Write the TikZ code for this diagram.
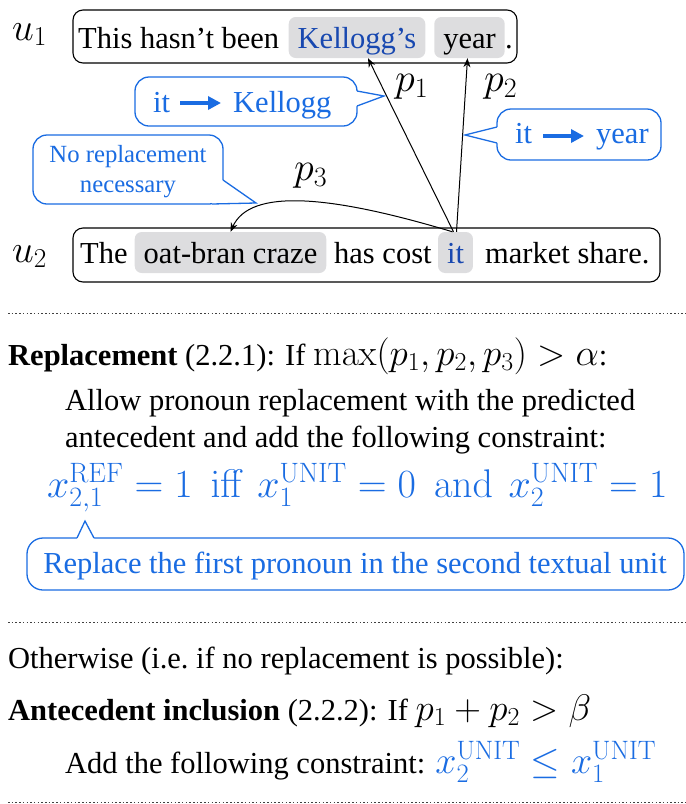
\RequirePackage{fix-cm}
\documentclass[tikz,border=0pt]{standalone}
\usepackage{amsmath}
\usepackage[no-math]{fontspec}
\setmainfont{Liberation Serif}
\usetikzlibrary{calc,arrows.meta}
\definecolor{bblue}{RGB}{26,108,226}
\definecolor{dblue}{RGB}{24,72,176}
\definecolor{hlgray}{RGB}{221,221,223}
\newcommand\fmain{\fontsize{30.5}{36}\selectfont}
\newcommand\fsmall{\fontsize{24.7}{30}\selectfont}
\newcommand\fmath{\fontsize{40}{44}\selectfont}
\newcommand\feq{\fontsize{40}{44}\selectfont}
\newcommand\mth[1]{{\fontsize{37}{40}\selectfont$#1$}}
\newcommand\pointer[4]{%
  \fill[white] ($#1+#4$) -- #1 -- #2 -- #3 -- ($#3+#4$) -- cycle;
  \draw[bblue, line width=1.3pt, line join=miter] #1 -- #2 -- #3;}
\begin{document}
\begin{tikzpicture}[x=1pt,y=-1pt,
  txt/.style={inner sep=0pt, anchor=base west, font=\fmain},
  hl/.style={fill=hlgray, rounded corners=7pt, inner xsep=9pt, inner ysep=1pt,
             text height=30pt, text depth=9pt, anchor=base, font=\fmain},
  ubox/.style={draw, line width=1.1pt, rounded corners=10pt, inner sep=0pt},
  bubble/.style={draw=bblue, line width=1.3pt, rounded corners=14pt, fill=white, inner sep=0pt},
  btxt/.style={inner sep=0pt, anchor=base west, text=bblue, font=\fmain},
  conn/.style={-{Stealth[length=9pt,width=7pt]}, line width=1pt},
  bigarrow/.style={line width=4pt, bblue, -{Triangle[length=13pt,width=13pt]}},
  sepline/.style={dash pattern=on 1.5pt off 2.2pt, line width=1pt, black!75}]
\useasboundingbox (0,0) rectangle (686,804);

% --- textual units
\node[ubox, minimum width=444pt, minimum height=53pt] (box1) at (295,36.5) {};
\node[txt] (t1a) at (78,48) {This hasn’t been};
\node[hl, text=dblue] (kel) at (357,48) {Kellogg’s};
\node[hl] (year) at (469.5,48) {year};
\node[txt] (dot) at (505,48) {.};
\node[txt, font=\fontsize{39}{44}\selectfont] (u1) at (12,40) {$u_1$};

\node[ubox, minimum width=587pt, minimum height=54pt] (box2) at (366.5,255) {};
\node[txt] (t2a) at (80,263) {The};
\node[hl] (oat) at (230.5,263) {oat-bran craze};
\node[txt] (t2b) at (334,263) {has cost};
\node[hl, text=dblue] (itw) at (455.5,263) {it};
\node[txt] (t2c) at (485,263) {market share.};
\node[txt, font=\fontsize{39}{44}\selectfont] (u2) at (12,262) {$u_2$};

% --- links
\draw[conn] ($(itw.north)+(-2,0)$) -- ($(kel.south)+(11,0)$);
\draw[conn] ($(itw.north)+(1,0)$) -- ($(year.south)+(-2,0)$);
\draw[conn] ($(itw.north)+(-3,0)$) .. controls (330,195) and (250,188) .. (oat.north);
\node[txt, font=\fmath] (p1) at (395,91) {$p_1$};
\node[txt, font=\fmath] (p2) at (484,91) {$p_2$};
\node[txt, font=\fmath] (p3) at (294,180) {$p_3$};

% --- bubbles
\node[bubble, minimum width=222pt, minimum height=49pt] (bK) at (246,101.5) {};
\pointer{(357,91)}{(384,96)}{(357,106)}{(-3,0)}
\node[btxt] (itK) at (153,112) {it};
\node[btxt] (kelB) at (233,112) {Kellogg};
\draw[bigarrow] ($(itK.base east)+(10,-9)$) -- ($(kelB.base west)+(-12,-9)$);

\node[bubble, minimum width=164pt, minimum height=51pt] (bY) at (579,134.5) {};
\pointer{(497,127)}{(465,135)}{(497,143)}{(3,0)}
\node[btxt] (itY) at (515,143) {it};
\node[btxt] (yearB) at (596,143) {year};
\draw[bigarrow] ($(itY.base east)+(11,-7)$) -- ($(yearB.base west)+(-12,-7)$);

\node[bubble, minimum width=190pt, minimum height=69pt] (bN) at (128,169.5) {};
\fill[white] (218,180) -- (223.7,180) -- (256,203) -- (212,204.7) -- (212,201) -- (218,196) -- cycle;
\draw[bblue, line width=1.3pt, line join=miter] (223,180) -- (256,203) -- (212,204);
\node[anchor=base, inner sep=0pt, text=bblue, font=\fsmall] (bN1) at (128,162) {No replacement};
\node[anchor=base, inner sep=0pt, text=bblue, font=\fsmall] (bN2) at (128,192) {necessary};

% --- separators
\draw[sepline] (8,313) -- (686,313);
\draw[sepline] (8,622) -- (686,622);
\draw[sepline] (8,802) -- (686,802);

% --- replacement rule
\node[txt] (rep) at (8,365) {\textbf{Replacement} (2.2.1): If \mth{\max(p_1,p_2,p_3)>\alpha}:};
\node[txt] (allow1) at (65,410) {Allow pronoun replacement with the predicted};
\node[txt] (allow2) at (65,447) {antecedent and add the following constraint:};
\node[txt, font=\feq, text=bblue] (eq) at (47,497)
  {$x^{\mathrm{REF}}_{2,1} = 1 \mkern8mu\mathrm{iff}\mkern6mu x^{\mathrm{UNIT}}_1 = 0 \mkern8mu\mathrm{and}\mkern7mu x^{\mathrm{UNIT}}_2 = 1$};

\node[bubble, rounded corners=16pt, minimum width=657pt, minimum height=52pt] (bR) at (355.5,564) {};
\pointer{(77,538)}{(85,521)}{(94,538)}{(0,3)}
\node[anchor=base, inner sep=0pt, text=bblue, font=\fmain] (bRt) at (355,573) {Replace the first pronoun in the second textual unit};

% --- otherwise
\node[txt] (other) at (8,668) {Otherwise (i.e.\ if no replacement is possible):};
\node[txt] (ante) at (8,720) {\textbf{Antecedent inclusion} (2.2.2): If \mth{p_1+p_2>\beta}};
\node[txt] (add) at (65,773) {Add the following constraint: {\color{bblue}\fontsize{38}{42}\selectfont$x^{\mathrm{UNIT}}_2\le x^{\mathrm{UNIT}}_1$}};
\end{tikzpicture}
\end{document}
